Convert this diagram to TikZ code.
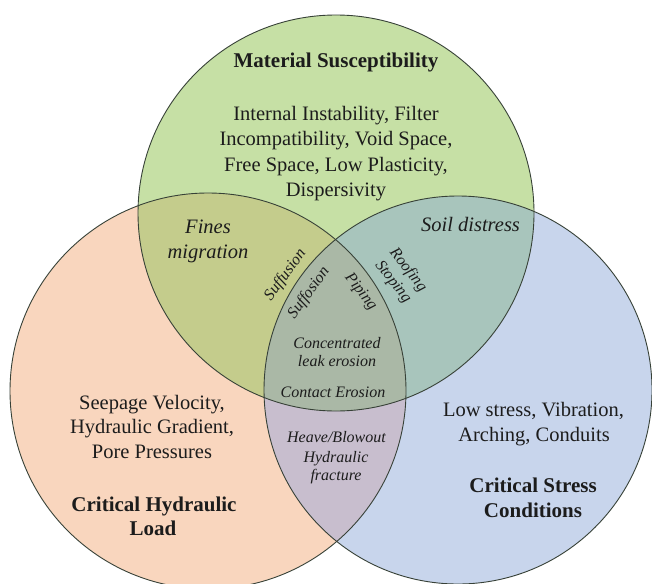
\documentclass[tikz,border=0pt]{standalone}
\usepackage{fontspec}
\setmainfont{Liberation Serif}
\definecolor{cG}{RGB}{198,224,165}
\definecolor{cO}{RGB}{249,214,190}
\definecolor{cB}{RGB}{200,213,236}
\definecolor{cGO}{RGB}{196,204,140}
\definecolor{cGB}{RGB}{168,197,188}
\definecolor{cOB}{RGB}{200,190,206}
\definecolor{cGOB}{RGB}{170,184,166}
\definecolor{edge}{RGB}{55,65,55}
\definecolor{txt}{RGB}{28,28,28}
\begin{document}
\begin{tikzpicture}[x=1pt,y=-1pt,
  ring/.style={draw=edge,line width=0.9pt},
  head/.style={font=\fontsize{21}{25}\selectfont\bfseries,text=txt,inner sep=0pt,anchor=base},
  body/.style={font=\fontsize{20.5}{25.5}\selectfont,text=txt,inner sep=0pt,anchor=base},
  mech/.style={font=\fontsize{20.5}{25.5}\selectfont\itshape,text=txt,inner sep=0pt,anchor=base},
  small/.style={font=\fontsize{16}{18}\selectfont\itshape,text=txt,inner sep=0pt,anchor=base},
  tilt/.style={font=\fontsize{16}{19}\selectfont\itshape,text=txt,inner sep=0pt,align=center}]
\useasboundingbox (0,0) rectangle (652,583);
\clip (0,0) rectangle (652,583);
\fill[white] (0,0) rectangle (652,583);
\coordinate (G) at (336,213);
\coordinate (O) at (208,391);
\coordinate (B) at (458,390);
% base fills
\fill[cO] (O) circle (198pt);
\fill[cB] (B) circle (194pt);
\fill[cG] (G) circle (198pt);
% pairwise overlaps
\begin{scope}\clip (G) circle (198pt); \fill[cGO] (O) circle (198pt); \end{scope}
\begin{scope}\clip (G) circle (198pt); \fill[cGB] (B) circle (194pt); \end{scope}
\begin{scope}\clip (O) circle (198pt); \fill[cOB] (B) circle (194pt); \end{scope}
% triple overlap
\begin{scope}\clip (G) circle (198pt); \clip (O) circle (198pt); \fill[cGOB] (B) circle (194pt); \end{scope}
% outlines
\draw[ring] (O) circle (198pt);
\draw[ring] (B) circle (194pt);
\draw[ring] (G) circle (198pt);

% Material susceptibility
\node[head] (ms) at (336,68) {Material Susceptibility};
\node[body] (ms1) at (336,120) {Internal Instability, Filter};
\node[body] (ms2) at (336,145.5) {Incompatibility, Void Space,};
\node[body] (ms3) at (336,171) {Free Space, Low Plasticity,};
\node[body] (ms4) at (336,196.5) {Dispersivity};

% hydraulic load
\node[body] (hl1) at (152,409) {Seepage Velocity,};
\node[body] (hl2) at (152,433.5) {Hydraulic Gradient,};
\node[body] (hl3) at (152,458.5) {Pore Pressures};
\node[head] (hl) at (154,511) {Critical Hydraulic};
\node[head] (hlb) at (153,535) {Load};

% stress conditions
\node[body] (sc1) at (533.5,416) {Low stress, Vibration,};
\node[body] (sc2) at (534,441) {Arching, Conduits};
\node[head] (sc) at (533,492) {Critical Stress};
\node[head] (scb) at (533,517.5) {Conditions};

% overlaps
\node[mech] (fm1) at (208,233.5) {Fines};
\node[mech] (fm2) at (208,258.5) {migration};
\node[mech] (sd) at (470.5,231) {Soil distress};

\node[tilt,rotate=54] (suf) at (285.5,275) {Suffusion};
\node[tilt,rotate=54] (sfo) at (309,293) {Suffosion};
\node[tilt,rotate=-52] (pip) at (360.5,292) {Piping};
\node[tilt,rotate=-52] (roof) at (400.5,276) {Roofing\\Stoping};

\node[small] (ce1) at (337,348) {Concentrated};
\node[small] (ce2) at (337,366.5) {leak erosion};
\node[small] (ce3) at (333,397) {Contact Erosion};

\node[small] (hb1) at (336.5,442.5) {Heave/Blowout};
\node[small] (hb2) at (336,462) {Hydraulic};
\node[small] (hb3) at (336,480) {fracture};
\end{tikzpicture}
\end{document}
